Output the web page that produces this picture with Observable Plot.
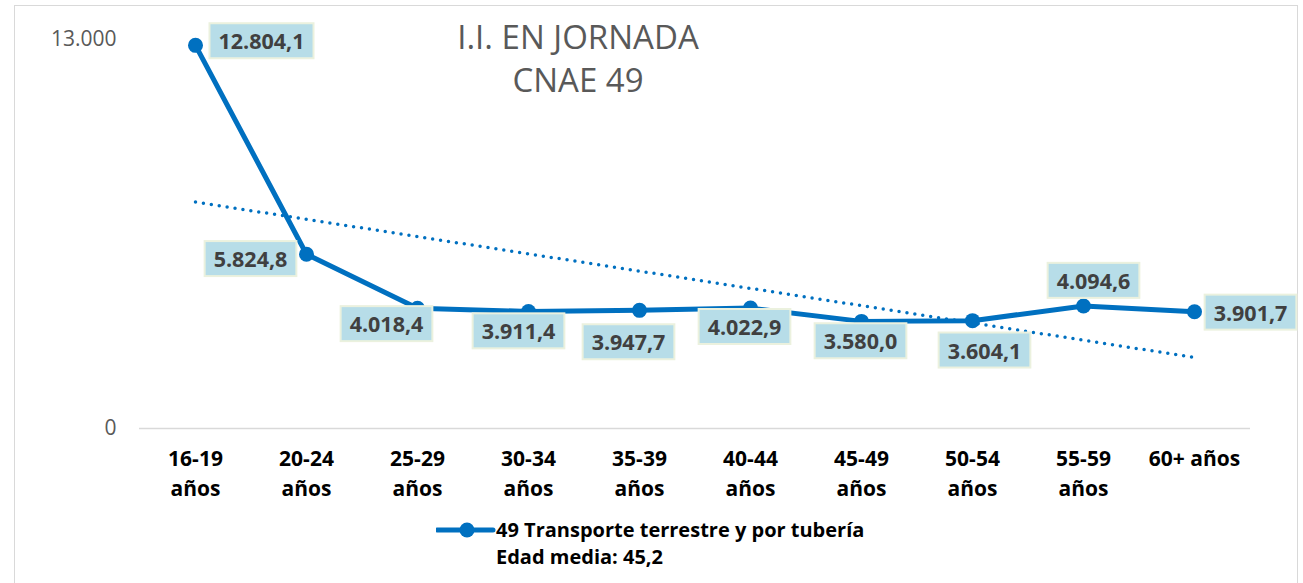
<!DOCTYPE html>
<html>
<head>
<meta charset="utf-8">
<script src="https://cdn.jsdelivr.net/npm/d3@7"></script>
<script src="https://cdn.jsdelivr.net/npm/@observablehq/plot@0.6"></script>
<style>
  body { margin: 0; background: #fff; font-family: "Open Sans", sans-serif; }
  #wrap { position: relative; width: 1303px; height: 583px; overflow: hidden; }
  #frame { position: absolute; left: 14px; top: 5px; width: 1284px; height: 620px; border: 1.5px solid #d9d9d9; box-sizing: border-box; }
  #chart { position: absolute; left: 0; top: 0; }
  #title { position: absolute; left: 378px; top: 15px; width: 400px; text-align: center; font-size: 33px; line-height: 43px; color: #595959; }
  #legend { position: absolute; left: 436px; top: 516px; font-size: 20px; font-weight: bold; line-height: 27px; color: #000; }
  #legend .row { display: flex; align-items: center; }
  #legend .row2 { padding-left: 60px; }
</style>
</head>
<body>
<div id="wrap">
  <div id="frame"></div>
  <div id="chart"></div>
  <div id="title"></div>
  <div id="legend"></div>
</div>
<script>
// ---- data ----
const ageGroups = ["16-19\naños", "20-24\naños", "25-29\naños", "30-34\naños", "35-39\naños",
                   "40-44\naños", "45-49\naños", "50-54\naños", "55-59\naños", "60+ años"];
const values = [12804.1, 5824.8, 4018.4, 3911.4, 3947.7, 4022.9, 3580.0, 3604.1, 4094.6, 3901.7];
const yTicks = [0, 13000];
const titleLines = ["I.I. EN JORNADA", "CNAE 49"];
const seriesName = "49 Transporte terrestre y por tubería";
const legendNote = "Edad media: 45,2";

// label offsets (px) relative to each point
const labelOffsets = [[66, -3], [-56, 6], [-31, 17], [-10, 21], [-11, 33], [-6, 20], [-1, 21], [12, 31], [10, -24], [56, 2]];

// ---- helpers ----
const esLocale = d3.formatLocale({decimal: ",", thousands: ".", grouping: [3], currency: ["", " €"]});
const fmtInt = esLocale.format(",.0f");
const fmt1 = esLocale.format(",.1f");

const data = ageGroups.map((a, i) => ({age: a, v: values[i], i}));

// linear trend (least squares over category index)
const xs = data.map((d, i) => i + 1);
const mx = d3.mean(xs), my = d3.mean(values);
const slope = d3.sum(xs, (x, i) => (x - mx) * (values[i] - my)) / d3.sum(xs, x => (x - mx) ** 2);
const trend = data.map((d, i) => ({age: d.age, v: my + slope * (xs[i] - mx)}));

const blue = "#0070c0";

const labelMarks = data.map((d, i) => Plot.text([d], {
  x: "age", y: "v", text: dd => fmt1(dd.v),
  dx: labelOffsets[i][0], dy: labelOffsets[i][1],
  fontSize: 21.5, fontWeight: "bold", fill: "#404040"
}));

const chart = Plot.plot({
  width: 1303,
  height: 510,
  marginLeft: 139,
  marginRight: 53,
  marginTop: 39,
  marginBottom: 82,
  style: {fontFamily: "Open Sans, sans-serif", background: "transparent", overflow: "visible"},
  x: {type: "point", domain: ageGroups, padding: 0.5, label: null},
  y: {domain: [0, 13000], label: null},
  marks: [
    Plot.ruleY([0], {stroke: "#d9d9d9", strokeWidth: 1.5}),
    Plot.axisY({ticks: yTicks, tickSize: 0, tickPadding: 23, tickFormat: fmtInt, fontSize: 21, color: "#595959", label: null}),
    Plot.axisX({tickSize: 0, tickPadding: 17, fontSize: 21, fontWeight: "bold", color: "#000", lineHeight: 1.4, label: null}),
    Plot.line(data, {x: "age", y: "v", stroke: blue, strokeWidth: 5, strokeLinejoin: "round"}),
    Plot.dot(data, {x: "age", y: "v", r: 7.5, fill: blue}),
    Plot.line(trend, {x: "age", y: "v", stroke: blue, strokeWidth: 3.5, strokeDasharray: "0 8", strokeLinecap: "round"}),
    ...labelMarks
  ]
});

document.getElementById("chart").append(chart);

// enforce axis font sizes
d3.select(chart).selectAll('g[aria-label="y-axis tick label"]').attr("font-size", 21).selectAll("text").attr("font-size", 21);
d3.select(chart).selectAll('g[aria-label="x-axis tick label"]').attr("font-size", 21).attr("font-weight", "bold").selectAll("text").attr("font-size", 21);

// boxes behind value labels
d3.select(chart).selectAll('g[aria-label="text"] text').each(function() {
  const b = this.getBBox();
  const padX = 9, padY = 4;
  const r = document.createElementNS("http://www.w3.org/2000/svg", "rect");
  r.setAttribute("x", b.x - padX);
  r.setAttribute("y", b.y - padY + 1);
  r.setAttribute("width", b.width + 2 * padX);
  r.setAttribute("height", b.height + 2 * padY - 2);
  r.setAttribute("fill", "#b7dde8");
  r.setAttribute("stroke", "#ebf1de");
  r.setAttribute("stroke-width", 2);
  const t = this.getAttribute("transform");
  if (t) r.setAttribute("transform", t);
  this.parentNode.insertBefore(r, this);
});

// title
const title = document.getElementById("title");
titleLines.forEach(l => { const d = document.createElement("div"); d.textContent = l; title.append(d); });

// legend
const legend = document.getElementById("legend");
const row = document.createElement("div");
row.className = "row";
const sw = d3.create("svg").attr("width", 60).attr("height", 18);
sw.append("line").attr("x1", 1).attr("x2", 57).attr("y1", 9).attr("y2", 9).attr("stroke", blue).attr("stroke-width", 5).attr("stroke-linecap", "round");
sw.append("circle").attr("cx", 31).attr("cy", 9).attr("r", 7.5).attr("fill", blue);
row.append(sw.node());
const lt = document.createElement("span"); lt.textContent = seriesName; row.append(lt);
legend.append(row);
const row2 = document.createElement("div"); row2.className = "row2"; row2.textContent = legendNote;
legend.append(row2);
</script>
</body>
</html>
